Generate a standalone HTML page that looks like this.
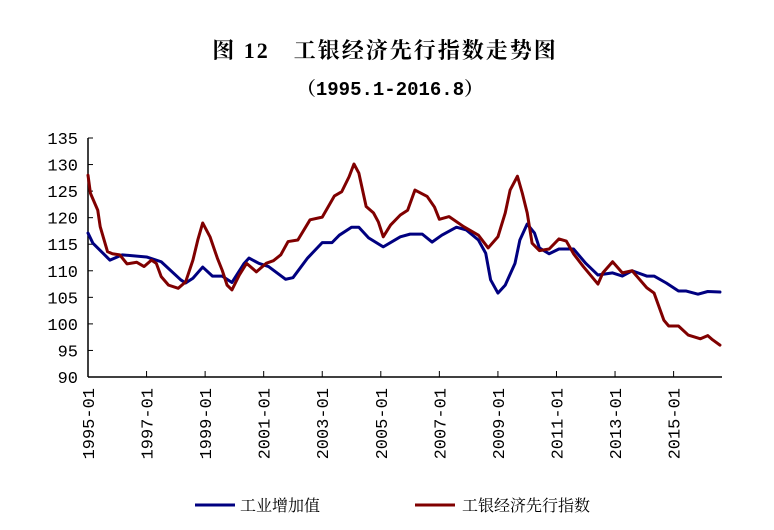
<!DOCTYPE html>
<html><head><meta charset="utf-8"><style>
body{margin:0;background:#fff;}
svg text{font-family:"Liberation Serif","Noto Serif CJK SC","Noto Sans CJK SC",serif;}
svg text.num{font-family:"Liberation Mono",monospace;}
</style></head><body>
<svg width="774" height="525" viewBox="0 0 774 525" id="chart">
<text x="385" y="58" text-anchor="middle" font-size="22" font-weight="bold" letter-spacing="2">图 12　工银经济先行指数走势图</text>
<text x="390" y="95" text-anchor="middle" font-size="19" font-weight="bold" style="font-family:'Liberation Mono','Noto Serif CJK SC',monospace">（1995.1-2016.8）</text>
<g id="axes"></g>
<g id="series"></g>
<g>
<line x1="195" y1="505" x2="235" y2="505" stroke="#000080" stroke-width="3"/>
<text x="240" y="511" font-size="16">工业增加值</text>
<line x1="415" y1="505" x2="455" y2="505" stroke="#800000" stroke-width="3"/>
<text x="462" y="511" font-size="16">工银经济先行指数</text>
</g>
</svg>
<script>
const yTicks=[90,95,100,105,110,115,120,125,130,135];
const xTickLabels=["1995-01","1997-01","1999-01","2001-01","2003-01","2005-01","2007-01","2009-01","2011-01","2013-01","2015-01"];
const xTickMonths=[0,24,48,72,96,120,144,168,192,216,240];
const industryMonths=[0,2,9,14,24,30,38,40,43,47,51,55,59,64,66,70,74,81,84,90,96,100,103,108,111,115,121,128,132,137,141,145,151,155,160,163,165,168,171,175,177,180,183,185,189,193,199,204,209,215,219,223,229,232,237,242,245,250,254,259];
const industryValues=[117.1,115.2,112,113,112.6,111.7,108.3,107.7,108.6,110.7,109,109,107.8,111.4,112.4,111.4,110.8,108.4,108.7,112.4,115.3,115.3,116.7,118.2,118.2,116.2,114.5,116.4,116.9,116.9,115.4,116.7,118.2,117.7,115.8,113.3,108.3,105.8,107.3,111.4,115.8,118.8,117.1,114.3,113.2,114.1,114.1,111.4,109.2,109.6,109,110,109,109,107.7,106.2,106.2,105.6,106.1,106];
const leadingMonths=[0,1,4,5,8,10,13,16,20,23,26,28,30,33,37,40,43,45,47,50,53,55,57,59,62,65,69,73,76,79,82,86,91,96,101,104,107,109,111,114,117,119,121,124,128,131,134,139,142,144,148,154,160,164,168,171,173,176,178,180,182,185,189,193,196,199,203,209,211,215,219,223,229,232,236,238,242,246,251,254,256,259];
const leadingValues=[128,124.6,121.4,118.3,113.6,113.2,113,111.3,111.6,110.8,112,111.4,108.9,107.3,106.7,107.9,112,115.8,119,116.4,112.4,110.1,107.3,106.4,109.2,111.4,109.8,111.4,111.9,113,115.5,115.8,119.6,120.1,124.1,124.9,127.7,130.1,128.4,122.1,120.9,119.2,116.4,118.6,120.5,121.4,125.2,124,122,119.7,120.2,118.3,116.7,114.3,116.4,120.9,125.2,127.8,124.6,120.9,115.2,113.8,114.1,116,115.6,113.2,110.8,107.5,109.6,111.7,109.6,110,106.8,105.8,100.7,99.6,99.6,97.9,97.2,97.8,97,96];

const X0=88,XPM=2.44,YB=377,YT=138,VMIN=90,VMAX=135;
const xs=m=>X0+m*XPM;
const ys=v=>YB-(v-VMIN)/(VMAX-VMIN)*(YB-YT);
const NS="http://www.w3.org/2000/svg";
const axes=document.getElementById('axes');
function mk(tag,attrs,parent){const e=document.createElementNS(NS,tag);for(const k in attrs)e.setAttribute(k,attrs[k]);parent.appendChild(e);return e;}
let yAxis=mk('line',{x1:X0,y1:YT,x2:X0,y2:YB,stroke:'#000','stroke-width':1.5},axes);


let xAxis=mk('line',{x1:X0,y1:YB,x2:722,y2:YB,stroke:'#000','stroke-width':1.5},axes);


yTicks.forEach(v=>{
  const y=ys(v);
  const t=mk('line',{x1:X0,y1:y,x2:X0+5,y2:y,stroke:'#000','stroke-width':1},axes);
  
  
  const l=mk('text',{x:78,y:y+6,'text-anchor':'end','font-size':17,'class':'num'},axes);
  l.textContent=v;
  
  
});
xTickMonths.forEach((m,i)=>{
  const x=xs(m);
  const t=mk('line',{x1:x,y1:YB,x2:x,y2:YB-6,stroke:'#000','stroke-width':1},axes);
  
  
  const l=mk('text',{x:0,y:0,'text-anchor':'end','font-size':17,'class':'num',transform:`translate(${x+6},388) rotate(-90)`},axes);
  l.textContent=xTickLabels[i];
  
  
});
const ser=document.getElementById('series');
function draw(months,vals,color,name){
  const p=mk('polyline',{points:months.map((m,i)=>xs(m)+','+ys(vals[i])).join(' '),fill:'none',stroke:color,'stroke-width':3,'stroke-linejoin':'round','stroke-linecap':'round'},ser);
  
  
}
draw(industryMonths,industryValues,'#000080','industry-line');
draw(leadingMonths,leadingValues,'#800000','leading-index-line');
</script>
</body></html>
